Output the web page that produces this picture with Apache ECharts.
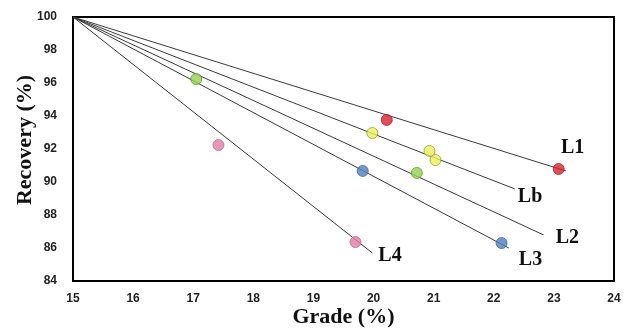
<!DOCTYPE html>
<html>
<head>
<meta charset="utf-8">
<script src="https://cdn.jsdelivr.net/npm/echarts@6/dist/echarts.min.js"></script>
<style>
  body{margin:0;background:#fff;}
  #chart{width:624px;height:333px;}
</style>
</head>
<body>
<div id="chart"></div>
<script>
// 图表数据
var xTicks=[15,16,17,18,19,20,21,22,23,24];
var yTicks=[84,86,88,90,92,94,96,98,100];
var origin=[15,100];
// 各线终点
var lineNames=["L1","Lb","L2","L3","L4"];
var lineEnds=[[23.2,90.67],[22.35,89.58],[22.83,86.79],[22.25,86.0],[19.98,85.7]];
// 散点
var redPts=[[20.22,93.76],[23.08,90.79]];
var yellowPts=[[19.98,92.97],[20.93,91.88],[21.03,91.33]];
var greenPts=[[17.05,96.24],[20.72,90.55]];
var bluePts=[[19.82,90.67],[22.13,86.3]];
var pinkPts=[[17.42,92.24],[19.7,86.36]];

var labelOffsets=[[-10,-23],[-2,8],[7,3],[5,12],[1,3]];

var chart=echarts.init(document.getElementById("chart"));

var series=[];
for(var i=0;i<lineNames.length;i++){
    series.push({
        name:lineNames[i],
        type:'line',
        symbol:'circle',
        symbolSize:0,
        showSymbol:true,
        silent:true,
        lineStyle:{color:'#3a3a3a',width:1},
        data:[
            origin,
            {
                value:lineEnds[i],
                label:{
                    show:true,
                    formatter:lineNames[i],
                    position:'right',
                    offset:labelOffsets[i],
                    fontFamily:'Liberation Serif',
                    fontWeight:'bold',
                    fontSize:20,
                    color:'#111'
                }
            }
        ],
        z:2
    });
}
function dots(data,fill,edge){
    return {
        type:'scatter',
        symbolSize:11,
        data:data,
        itemStyle:{color:fill,borderColor:edge,borderWidth:1},
        z:3
    };
}
series.push(dots(redPts,'#d8232f','#b81e28'));
series.push(dots(yellowPts,'#ecf05a','#9aa22a'));
series.push(dots(greenPts,'#93d150','#5e9a2e'));
series.push(dots(bluePts,'#4f7fbd','#3b68a3'));
series.push(dots(pinkPts,'#e27aa9','#c9648f'));

var option={
    animation:false,
    grid:{left:73,right:10,top:17,bottom:52,show:true,borderColor:'#000',borderWidth:2,outerBoundsMode:'none'},
    xAxis:{
        type:'value',
        min:15,max:24,interval:1,
        name:'Grade (%)',
        nameLocation:'middle',
        nameGap:25,
        nameMoveOverlap:false,
        nameTextStyle:{fontFamily:'Liberation Serif',fontWeight:'bold',fontSize:22,color:'#111'},
        axisLine:{show:true,lineStyle:{color:'#000',width:2}},
        axisTick:{show:false},
        splitLine:{show:false},
        axisLabel:{color:'#222',fontWeight:'bold',fontSize:12,fontFamily:'Liberation Sans',margin:12,
            formatter:function(v){return xTicks.indexOf(v)>=0?String(v):'';}}
    },
    yAxis:{
        type:'value',
        min:84,max:100,interval:2,
        name:'Recovery (%)',
        nameLocation:'middle',
        nameGap:37,
        nameMoveOverlap:false,
        nameTextStyle:{fontFamily:'Liberation Serif',fontWeight:'bold',fontSize:22,color:'#111',padding:[0,0,0,18]},
        axisLine:{show:true,lineStyle:{color:'#000',width:2}},
        axisTick:{show:false},
        splitLine:{show:false},
        axisLabel:{color:'#222',fontWeight:'bold',fontSize:12,fontFamily:'Liberation Sans',margin:16,
            formatter:function(v){return yTicks.indexOf(v)>=0?String(v):'';}}
    },
    series:series
};
chart.setOption(option);
</script>
</body>
</html>
